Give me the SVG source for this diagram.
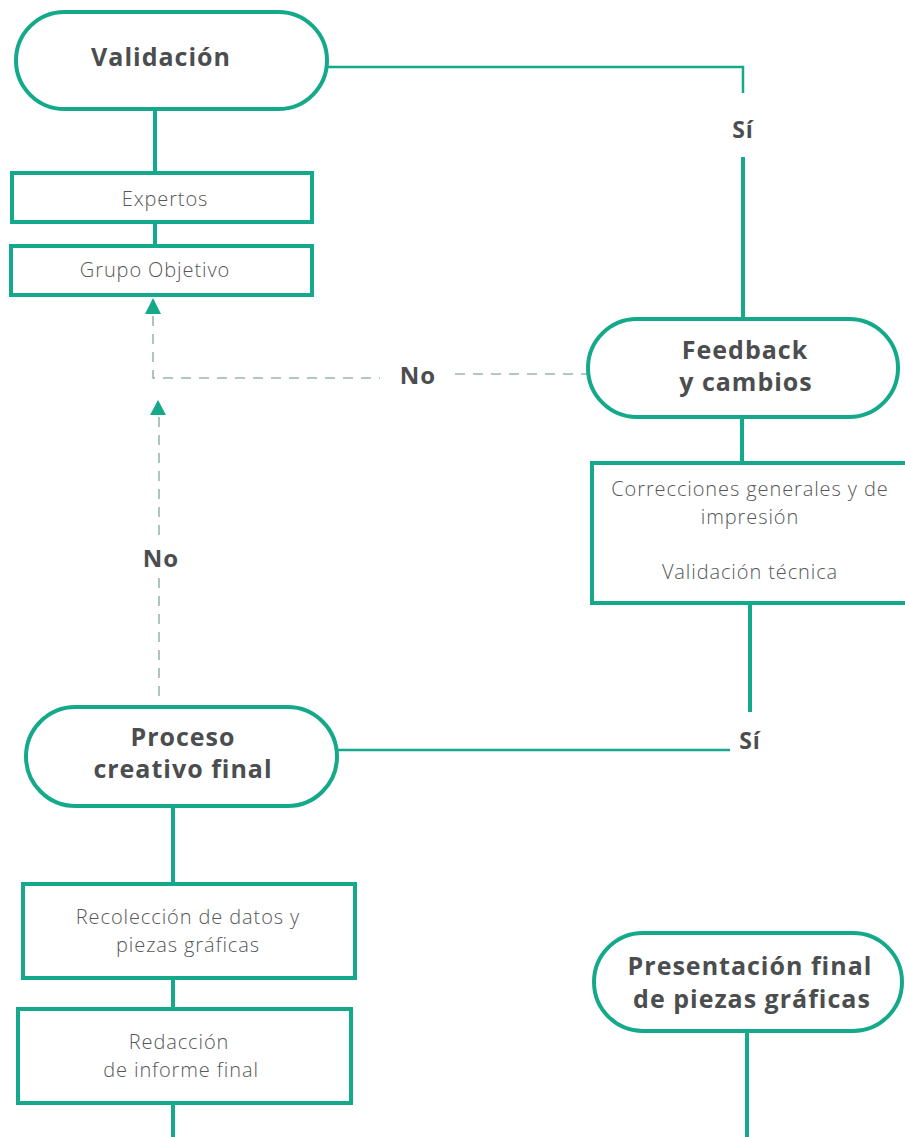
<svg xmlns="http://www.w3.org/2000/svg" width="905" height="1137" viewBox="0 0 905 1137">
<style>
.pill{fill:#fff;stroke:#13a98a;stroke-width:4}
.box{fill:#fff;stroke:#13a98a;stroke-width:4}
.ln{fill:none;stroke:#13a98a;stroke-width:4}
.thin{fill:none;stroke:#13a98a;stroke-width:2.5}
.dash{fill:none;stroke:#98b8ae;stroke-width:1.6;stroke-dasharray:10 8}
.arr{fill:#13a98a}
.bt{font-family:"Open Sans","Liberation Sans",sans-serif;font-weight:700;fill:#4b4d4f;text-anchor:middle;letter-spacing:1px}
.lt{font-family:"Open Sans","Liberation Sans",sans-serif;font-weight:300;fill:#555759;text-anchor:middle;font-size:20px;letter-spacing:0.9px}
</style>
<rect width="905" height="1137" fill="#fff"/>
<g id="connectors">
<path class="thin" d="M328 67 H743 V93"/>
<path class="ln" d="M743 157 V318"/>
<path class="ln" d="M155 110 V172"/>
<path class="ln" d="M155 222 V245"/>
<path class="ln" d="M742 418 V462"/>
<path class="ln" d="M750 604 V712"/>
<path class="thin" d="M338 750 H730"/>
<path class="ln" d="M173 807 V883"/>
<path class="ln" d="M173 978 V1008"/>
<path class="ln" d="M173 1104 V1137"/>
<path class="ln" d="M747 1032 V1137"/>
<path class="dash" d="M153 316 V378 H380"/>
<path class="dash" d="M455 374 H587"/>
<path class="dash" d="M159 417 V540"/>
<path class="dash" d="M159 578 V703"/>
<polygon class="arr" points="153,298 145,314 161,314"/>
<polygon class="arr" points="158,400 150,415 166,415"/>
<text class="bt" x="743" y="138" font-size="23">Sí</text>
<text class="bt" x="418" y="384" font-size="24">No</text>
<text class="bt" x="161" y="567" font-size="24">No</text>
<text class="bt" x="750" y="749" font-size="23">Sí</text>
</g>
<g id="validacion">
<rect class="pill" x="16" y="12" width="311" height="97" rx="48.5"/>
<text class="bt" x="161" y="66" font-size="25">Validación</text>
</g>
<g id="expertos">
<rect class="box" x="12" y="173" width="300" height="49"/>
<text class="lt" x="165" y="206">Expertos</text>
</g>
<g id="grupo">
<rect class="box" x="11" y="246" width="301" height="49"/>
<text class="lt" x="155" y="277">Grupo Objetivo</text>
</g>
<g id="feedback">
<rect class="pill" x="588" y="319" width="310" height="98" rx="49"/>
<text class="bt" x="745" y="359" font-size="25">Feedback</text>
<text class="bt" x="746" y="391" font-size="25">y cambios</text>
</g>
<g id="correcciones">
<rect class="box" x="592" y="463" width="320" height="140"/>
<text class="lt" x="750" y="496">Correcciones generales y  de</text>
<text class="lt" x="750" y="524">impresión</text>
<text class="lt" x="750" y="579">Validación técnica</text>
</g>
<g id="proceso">
<rect class="pill" x="26" y="707" width="311" height="99" rx="49.5"/>
<text class="bt" x="183" y="746" font-size="25">Proceso</text>
<text class="bt" x="183" y="778" font-size="25">creativo final</text>
</g>
<g id="recoleccion">
<rect class="box" x="23" y="884" width="332" height="94"/>
<text class="lt" x="188" y="924">Recolección de datos y</text>
<text class="lt" x="188" y="952">piezas gráficas</text>
</g>
<g id="redaccion">
<rect class="box" x="18" y="1009" width="333" height="94"/>
<text class="lt" x="179" y="1049">Redacción</text>
<text class="lt" x="181" y="1077">de informe final</text>
</g>
<g id="presentacion">
<rect class="pill" x="594" y="933" width="308" height="98" rx="49"/>
<text class="bt" x="750" y="975" font-size="25">Presentación final</text>
<text class="bt" x="752" y="1008" font-size="25">de piezas gráficas</text>
</g>
</svg>
